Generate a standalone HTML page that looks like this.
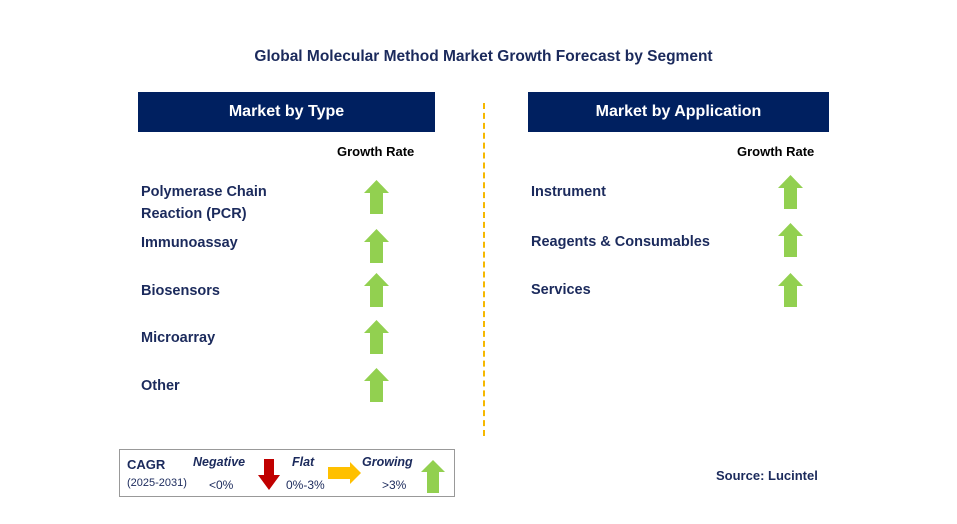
<!DOCTYPE html>
<html><head><meta charset="utf-8"><style>
body{margin:0;width:957px;height:524px;background:#fff;position:relative;overflow:hidden;font-family:"Liberation Sans",sans-serif;color:#1b2a5c}
.a{position:absolute}
.hdr{position:absolute;background:#002060;color:#fff;font-weight:bold;font-size:16px;text-align:center;line-height:40px;height:40px}
.lbl{position:absolute;font-weight:bold;font-size:14.5px;color:#1b2a5c;line-height:22px}
.gr{position:absolute;font-weight:bold;font-size:13px;color:#000}
</style></head><body>
<div class="a" style="left:0;width:967px;top:48px;text-align:center;font-weight:bold;font-size:15.5px;color:#1b2a5c">Global Molecular Method Market Growth Forecast by Segment</div>
<div class="hdr" style="left:138px;top:92px;width:297px">Market by Type</div>
<div class="hdr" style="left:528px;top:92px;width:301px">Market by Application</div>
<div class="a" style="left:483px;top:103px;height:333px;border-left:2px dashed #f5b800"></div>
<div class="gr" style="left:337px;top:144px">Growth Rate</div>
<div class="gr" style="left:737px;top:144px">Growth Rate</div>
<div id="items"></div>
<div class="a" style="left:119px;top:449px;width:334px;height:46px;border:1px solid #999;font-size:12px">
 <div class="a" style="left:7px;top:7px;font-weight:bold;font-size:13px">CAGR</div>
 <div class="a" style="left:7px;top:27px;font-size:11px">(2025-2031)</div>
 <div class="a" style="left:73px;top:5px;font-weight:bold;font-style:italic;font-size:12.5px">Negative</div>
 <div class="a" style="left:89px;top:28px">&lt;0%</div>
 <svg class="a" style="left:137px;top:9px" width="24" height="32"><polygon points="7,0 17,0 17,16 23,16 12,31 1,16 7,16" fill="#c00000"/></svg>
 <div class="a" style="left:172px;top:5px;font-weight:bold;font-style:italic;font-size:12.5px">Flat</div>
 <div class="a" style="left:166px;top:28px">0%-3%</div>
 <svg class="a" style="left:208px;top:12px" width="34" height="22"><polygon points="0,5 22,5 22,0 33,11 22,22 22,17 0,17" fill="#ffc000"/></svg>
 <div class="a" style="left:242px;top:5px;font-weight:bold;font-style:italic;font-size:12.5px">Growing</div>
 <div class="a" style="left:262px;top:28px">&gt;3%</div>
 <svg class="a" style="left:301px;top:10px" width="24" height="33"><polygon points="12,0 24,12 18,12 18,33 6,33 6,12 0,12" fill="#92d050"/></svg>
</div>
<div class="a" style="left:716px;top:468px;font-weight:bold;font-size:13px;color:#1b2a5c">Source: Lucintel</div>
<script>
const typeNames=["Polymerase Chain\nReaction (PCR)","Immunoassay","Biosensors","Microarray","Other"];
const typeTops=[180,229,273,320,368];
const appNames=["Instrument","Reagents & Consumables","Services"];
const appTops=[175,223,273];
const c=document.getElementById('items');
function add(name,lx,ly,ax,ay,i,grp){
 const d=document.createElement('div');d.className='lbl';d.style.left=lx+'px';d.style.top=ly+'px';
 d.innerHTML=name.replace(/&/g,'&amp;').replace('\n','<br>');
 
 
 c.appendChild(d);
 const s=document.createElementNS('http://www.w3.org/2000/svg','svg');
 s.setAttribute('width','25');s.setAttribute('height','34');s.setAttribute('class','a');
 s.style.left=ax+'px';s.style.top=ay+'px';
 s.innerHTML='<polygon points="12.5,0 25,13 19,13 19,34 6,34 6,13 0,13" fill="#92d050"/>';
 
 
 c.appendChild(s);
}
typeNames.forEach((n,i)=>add(n,141,typeTops[i]+(i==0?1:(i==1?3:7)),364,typeTops[i],i,'type'));
appNames.forEach((n,i)=>add(n,531,appTops[i]+(i==1?8:6),778,appTops[i],i,'application'));
</script>
</body></html>
